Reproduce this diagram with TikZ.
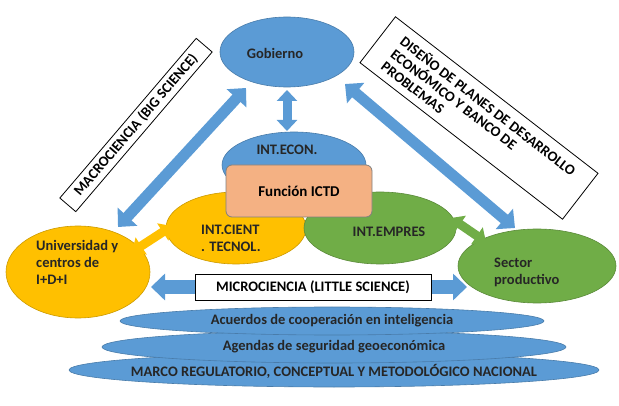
\documentclass[tikz,border=0pt]{standalone}
\usepackage{fontspec}
\setmainfont{Carlito}
\usetikzlibrary{shapes.geometric,arrows.meta}
\definecolor{cblue}{HTML}{5B9BD5}
\definecolor{cyel}{HTML}{FFC000}
\definecolor{cgreen}{HTML}{70AD47}
\definecolor{corange}{HTML}{F4B183}
\tikzset{
  ell/.style={ellipse,draw=#1!80!black,fill=#1,line width=0.6pt,inner sep=0pt},
  lbl/.style={font=\fontsize{14.5}{17}\selectfont\bfseries,text=black!85,inner sep=0pt},
  bigarrow/.style={cblue,line width=11pt,{Triangle[width=26pt,length=14pt]}-{Triangle[width=26pt,length=14pt]}},
  smallarrow/.style={line width=9pt,{Triangle[width=20pt,length=11pt]}-{Triangle[width=20pt,length=11pt]}},
  textbox/.style={draw=black,fill=white,line width=0.8pt,inner sep=3pt,font=\fontsize{14.5}{15.5}\selectfont\bfseries}
}
\begin{document}
\begin{tikzpicture}[x=1pt,y=-1pt]
\useasboundingbox (0,0) rectangle (619,406);
% bottom ellipses
\node[ell=cblue,minimum width=530,minimum height=34] (e3) at (334,370) {};
\node[ell=cblue,minimum width=464,minimum height=32] (e2) at (334,347) {};
\node[ell=cblue,minimum width=424,minimum height=28] (e1) at (332,321) {};
\node[lbl] at (e1) {Acuerdos de cooperación en inteligencia};
\node[lbl] at (e2.center) {Agendas de seguridad geoeconómica};
\node[lbl] at (334,371) {MARCO REGULATORIO, CONCEPTUAL Y METODOLÓGICO NACIONAL};
% main ellipses
\node[ell=cblue,minimum width=134,minimum height=70] (gob) at (287,52) {};
\node[lbl] at (275,53) {Gobierno};
\node[ell=cyel,minimum width=144,minimum height=92] (uni) at (78,272) {};
\node[lbl,align=left,anchor=west] at (36,262) {Universidad y\\centros de\\I+D+I};
\node[ell=cgreen,minimum width=158,minimum height=74] (sec) at (537,266) {};
\node[lbl,align=left,anchor=west] at (494,272) {Sector\\productivo};
\node[ell=cblue,minimum width=144,minimum height=66] (econ) at (294,165) {};
\node[lbl] at (287,150) {INT.ECON.};
\node[ell=cyel,minimum width=140,minimum height=72] (cient) at (236,228) {};
\node[ell=cgreen,minimum width=152,minimum height=72] (empr) at (380,228) {};
\node[lbl,align=left] at (231,238) {INT.CIENT\\. TECNOL.};
\node[lbl] at (389,232) {INT.EMPRES};
\node[draw=gray,fill=corange,rounded corners=6pt,minimum width=146,minimum height=52,line width=0.8pt,
  font=\fontsize{15}{17}\selectfont\bfseries] (ictd) at (299,191) {Función ICTD};
% arrow endpoints
\coordinate (a1) at (118,227); \coordinate (a2) at (246,88);
\coordinate (b1) at (345,84); \coordinate (b2) at (515,228);
\coordinate (c1) at (287,90); \coordinate (c2) at (287,131);
\coordinate (d1) at (132,252); \coordinate (d2) at (172,226);
\coordinate (f1) at (451,218); \coordinate (f2) at (486,242);
\coordinate (h1) at (151,287); \coordinate (h2) at (467,287);
\draw[bigarrow] (a1) -- (a2);
\draw[bigarrow] (b1) -- (b2);
\draw[smallarrow,cblue] (c1) -- (c2);
\draw[smallarrow,cyel] (d1) -- (d2);
\draw[smallarrow,cgreen] (f1) -- (f2);
\draw[bigarrow,line width=14pt] (h1) -- (h2);
\node[textbox,minimum width=236,minimum height=26] (micro) at (313,287) {MICROCIENCIA (LITTLE SCIENCE)};
\node[textbox,rotate=49.5,minimum width=210,minimum height=21] (macro) at (136,125) {MACROCIENCIA (BIG SCIENCE)};
\node[textbox,rotate=-37.7,minimum width=256,minimum height=58,align=left] (dis) at (479,118)
  {DISEÑO DE PLANES DE DESARROLLO\\ECONÓMICO Y BANCO DE\\PROBLEMAS};
\end{tikzpicture}
\end{document}
